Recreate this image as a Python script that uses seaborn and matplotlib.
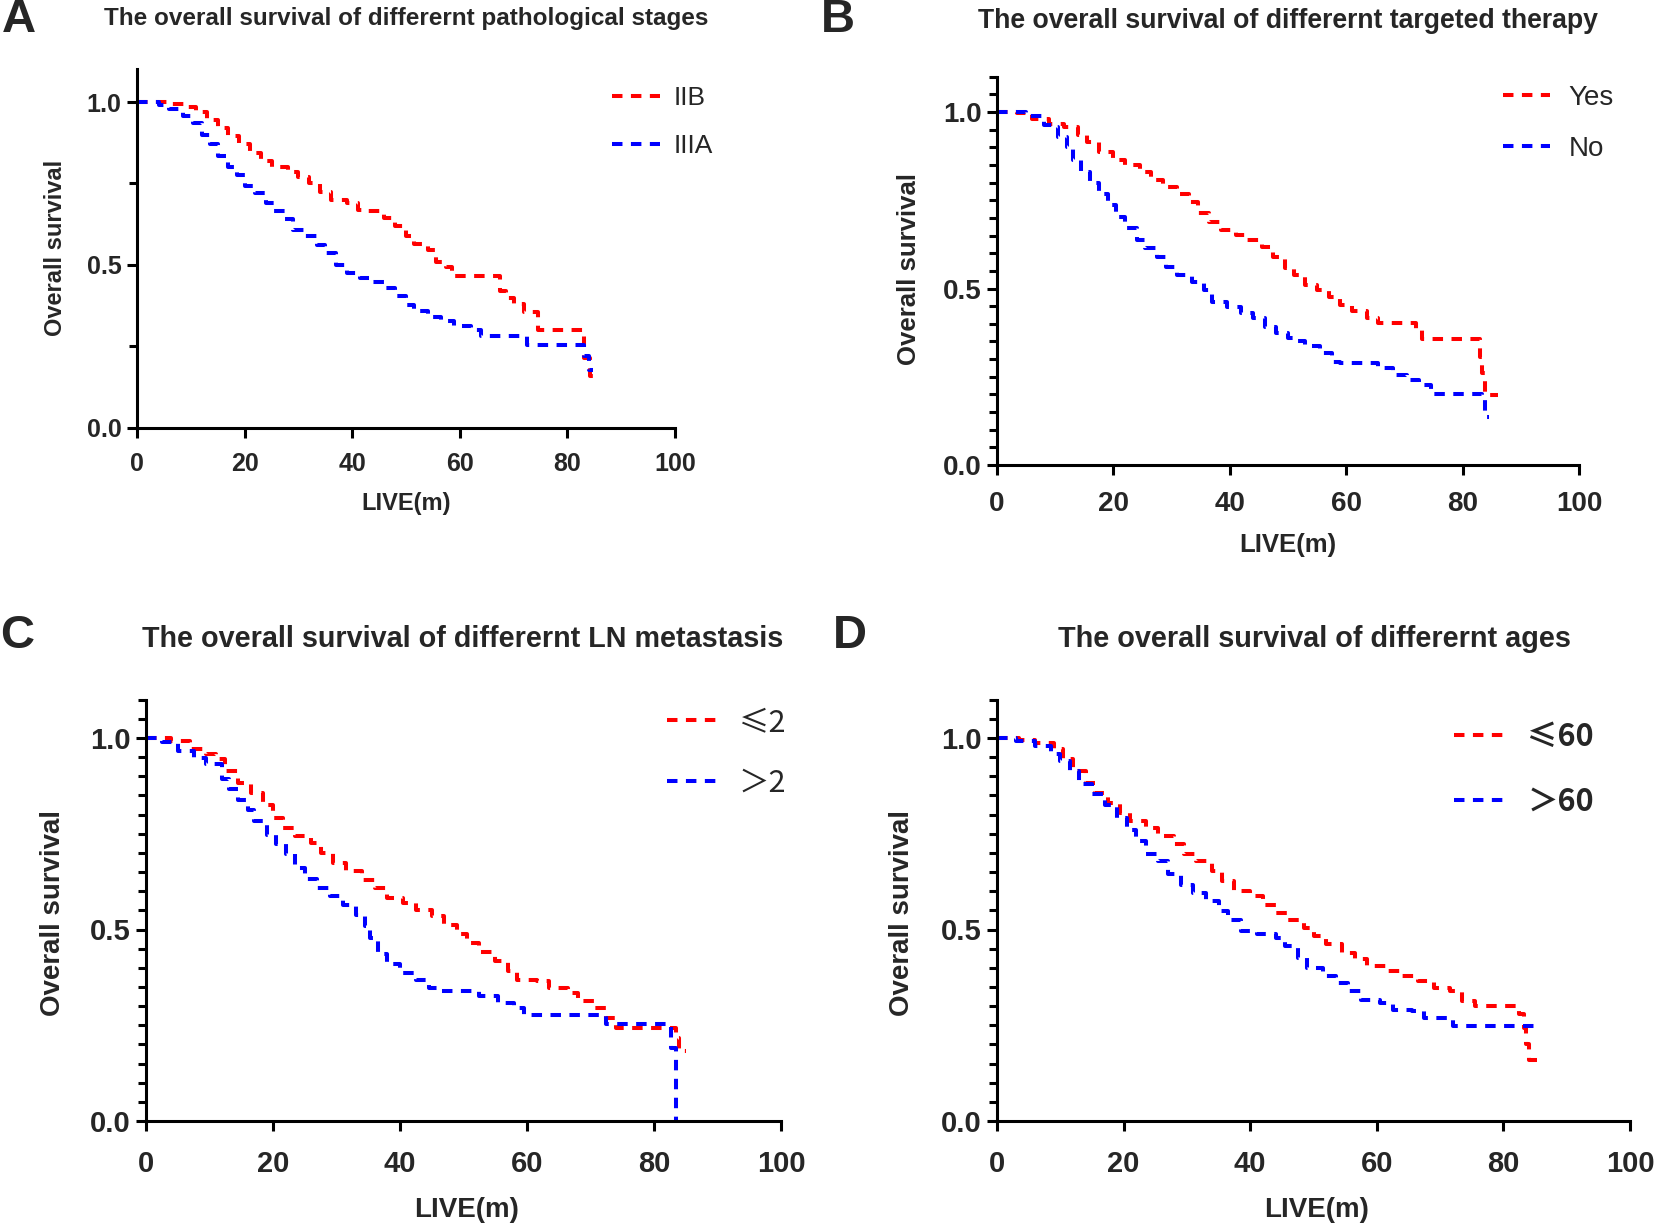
import numpy as np
import pandas as pd
import seaborn as sns
import matplotlib.pyplot as plt
from matplotlib.ticker import FixedLocator

sns.set_theme(style='ticks')
plt.rcParams['font.family'] = ['Liberation Sans', 'Noto Sans CJK SC', 'DejaVu Sans']

# ---- A: pathological stages ----
a_iib_time = [0, 6, 9, 11, 13, 15, 17, 19, 21, 23, 25, 28, 30, 32, 34, 36, 39, 41, 43, 46, 48, 50,
              51.5, 54, 55.5, 57.5, 58.5, 67.5, 68.5, 70, 72, 74.5, 83, 84.2, 86.3]
a_iib_surv = [1.0, 0.995, 0.985, 0.97, 0.945, 0.92, 0.895, 0.87, 0.845, 0.82, 0.80, 0.785, 0.77, 0.75,
              0.725, 0.70, 0.69, 0.67, 0.665, 0.645, 0.62, 0.59, 0.565, 0.545, 0.51, 0.495, 0.466,
              0.42, 0.40, 0.38, 0.356, 0.30, 0.215, 0.158, 0.158]
a_iiia_time = [0, 4, 6, 8.5, 10.5, 12, 13.5, 15, 17, 18.5, 20, 22, 24, 25.5, 27.5, 29, 31, 33.5, 35,
               37, 39, 41.5, 43.5, 46, 48, 50, 51.5, 54, 56.5, 59, 62, 64, 72.5, 83, 84, 84.8]
a_iiia_surv = [1.0, 0.99, 0.98, 0.956, 0.935, 0.90, 0.87, 0.835, 0.80, 0.777, 0.741, 0.72, 0.69, 0.665,
               0.64, 0.608, 0.588, 0.562, 0.537, 0.50, 0.475, 0.46, 0.447, 0.43, 0.404, 0.378, 0.36,
               0.342, 0.327, 0.312, 0.30, 0.283, 0.256, 0.22, 0.179, 0.179]

# ---- B: targeted therapy ----
b_yes_time = [0, 3.5, 6, 9, 11.5, 14, 15.5, 17.5, 20, 22, 24.5, 26.5, 28.5, 31, 33, 34.5, 36.5, 38.5,
              41, 43, 45.5, 47.5, 49.5, 51, 53, 55, 57, 59, 61, 63.5, 65.5, 72, 73, 83, 83.4, 83.8, 86]
b_yes_surv = [1.0, 0.996, 0.98, 0.967, 0.958, 0.934, 0.915, 0.887, 0.864, 0.85, 0.83, 0.807, 0.788,
              0.769, 0.746, 0.713, 0.689, 0.666, 0.651, 0.637, 0.618, 0.59, 0.557, 0.538, 0.51, 0.496,
              0.477, 0.453, 0.437, 0.416, 0.403, 0.383, 0.358, 0.307, 0.26, 0.199, 0.199]
b_no_time = [0, 5, 8, 9.5, 10.5, 12, 13, 14.5, 16, 17.5, 19, 20.5, 22, 24, 25.5, 27.5, 29, 31, 33.5,
             35.5, 37, 39.5, 42, 44, 46, 48, 50, 51, 53, 55.5, 57.5, 59, 65.5, 68, 70.5, 72.5, 74.5,
             83.4, 83.8, 84.5]
b_no_surv = [1.0, 0.99, 0.963, 0.958, 0.93, 0.90, 0.864, 0.83, 0.80, 0.769, 0.736, 0.703, 0.67, 0.637,
             0.614, 0.59, 0.562, 0.538, 0.519, 0.496, 0.463, 0.449, 0.43, 0.416, 0.392, 0.373, 0.36,
             0.35, 0.337, 0.317, 0.293, 0.289, 0.274, 0.255, 0.241, 0.227, 0.202, 0.185, 0.137, 0.137]

# ---- C: LN metastasis ----
c_le2_time = [0, 4, 7, 9.5, 11, 12.5, 14.5, 16.5, 18.5, 20, 21.5, 23.5, 26, 27.5, 29.5, 31.5, 34, 36,
              38, 40.5, 42.5, 45, 47, 49, 50.5, 52.5, 55, 57, 58.5, 61.5, 63.5, 66.5, 68, 70.5, 72.5,
              74, 83.5, 84, 85]
c_le2_surv = [1.0, 0.992, 0.97, 0.957, 0.944, 0.913, 0.883, 0.857, 0.826, 0.792, 0.766, 0.744, 0.726,
              0.70, 0.674, 0.652, 0.63, 0.609, 0.583, 0.57, 0.552, 0.535, 0.513, 0.487, 0.465, 0.44,
              0.417, 0.391, 0.369, 0.365, 0.348, 0.335, 0.313, 0.296, 0.27, 0.243, 0.217, 0.182, 0.182]
c_gt2_time = [0, 2.5, 5, 7.5, 9.5, 12, 13, 14.5, 16, 17, 19, 20.5, 22, 23.5, 25, 27, 29, 31, 33, 34.5,
              35.3, 36.5, 38, 40, 42.5, 44.5, 46.5, 52.5, 55.5, 58, 59.5, 72.5, 82.6, 83.4]
c_gt2_surv = [1.0, 0.99, 0.966, 0.948, 0.933, 0.892, 0.866, 0.839, 0.813, 0.783, 0.748, 0.722, 0.696,
              0.661, 0.631, 0.609, 0.587, 0.565, 0.539, 0.509, 0.478, 0.435, 0.409, 0.387, 0.369,
              0.348, 0.339, 0.326, 0.309, 0.296, 0.278, 0.252, 0.19, 0.0]

# ---- D: ages ----
d_le60_time = [0, 3.5, 6, 9, 10.5, 12, 14, 15.5, 17.5, 19.5, 21, 23.5, 25.5, 28, 29.5, 31.5, 34, 35.5,
               37.5, 40, 42, 44, 46, 48.5, 50, 52, 54.5, 56.5, 58.5, 61.5, 64, 66.5, 69, 71.5, 73.5,
               75.5, 82.4, 83.2, 83.6, 84, 85.3]
d_le60_surv = [1.0, 0.995, 0.987, 0.97, 0.944, 0.913, 0.883, 0.857, 0.831, 0.805, 0.783, 0.766, 0.744,
               0.722, 0.696, 0.678, 0.652, 0.626, 0.60, 0.587, 0.565, 0.544, 0.526, 0.504, 0.483,
               0.461, 0.439, 0.422, 0.404, 0.391, 0.378, 0.365, 0.348, 0.339, 0.313, 0.30, 0.28,
               0.243, 0.20, 0.158, 0.158]
d_gt60_time = [0, 3, 6, 8.5, 10, 11.5, 13, 15, 17, 19, 20.5, 22, 23.5, 25.5, 27, 29, 31, 33, 35, 36.5,
               38.5, 41, 44, 45.5, 47.5, 49, 51.5, 53.5, 55.5, 57.5, 60.5, 62.5, 65.5, 67.5, 72, 86]
d_gt60_surv = [1.0, 0.992, 0.979, 0.957, 0.939, 0.913, 0.879, 0.853, 0.826, 0.792, 0.761, 0.731, 0.696,
               0.678, 0.644, 0.617, 0.596, 0.574, 0.548, 0.526, 0.496, 0.487, 0.478, 0.456, 0.426,
               0.40, 0.378, 0.361, 0.339, 0.317, 0.309, 0.291, 0.287, 0.27, 0.248, 0.248]

W, H = 1654, 1228
fig = plt.figure(figsize=(W / 100, H / 100), dpi=100)
RED, BLUE = '#ff0000', '#0000ff'


def rect(x0, x100, y0, y1):
    # pixel positions of t=0, t=100, s=0, s=1.0 -> axes rect (ylim 0..1.1)
    top = y0 - (y0 - y1) * 1.1
    return [x0 / W, 1 - y0 / H, (x100 - x0) / W, (y0 - top) / H]


def ftext(x, y, s, **kw):
    fig.text(x / W, 1 - y / H, s, ha='center', va='center', **kw)


def panel(r, series, letter, letter_xy, title, title_xy, title_fs, xlab_xy, ylab_xy, lab_fs,
          tick_fs, xpad, minor, leg_xy, leg_kw, leg_prop):
    ax = fig.add_axes(r)
    for lab, t, s, col in series:
        df = pd.DataFrame({'time': t, 'surv': s})
        sns.lineplot(data=df, x='time', y='surv', ax=ax, color=col, estimator=None, sort=False,
                     drawstyle='steps-post', lw=2.9, linestyle=(0, (2.6, 2.1)),
                     dash_capstyle='butt', legend=False, clip_on=False)
    ax.set_xlim(0, 100)
    ax.set_ylim(0, 1.1)
    ax.set_xlabel('')
    ax.set_ylabel('')
    ax.set_xticks(range(0, 101, 20))
    ax.set_yticks([0, 0.5, 1.0])
    ax.set_yticklabels(['0.0', '0.5', '1.0'])
    ax.yaxis.set_minor_locator(FixedLocator(np.arange(0, 1.1001, minor)))
    ax.tick_params(which='major', direction='out', length=7, width=2.2, labelsize=tick_fs,
                   pad=4, color='black')
    ax.tick_params(axis='x', which='major', pad=xpad)
    ax.tick_params(which='minor', direction='out', length=6, width=2.2, color='black')
    for lbl in ax.get_xticklabels() + ax.get_yticklabels():
        lbl.set_fontweight('bold')
    sns.despine(ax=ax)
    for sp in ['left', 'bottom']:
        ax.spines[sp].set_linewidth(2.2)
        ax.spines[sp].set_color('black')
    ax.set_facecolor('white')
    lines = ax.get_lines()
    ax.legend(lines, [sr[0] for sr in series], loc='upper left', frameon=False,
              bbox_to_anchor=((leg_xy[0] - r[0] * W) / (r[2] * W),
                              ((1 - leg_xy[1] / H) - r[1]) / r[3]),
              borderaxespad=0, borderpad=0, prop=leg_prop, **leg_kw)
    ftext(*letter_xy, letter, fontsize=34, fontweight='bold')
    ftext(*title_xy, title, fontsize=title_fs, fontweight='bold')
    ftext(*xlab_xy, 'LIVE(m)', fontsize=lab_fs, fontweight='bold')
    ftext(*ylab_xy, 'Overall survival', fontsize=lab_fs, fontweight='bold', rotation=90)
    return ax


panel(rect(137, 675, 428, 102),
      [('IIB', a_iib_time, a_iib_surv, RED), ('IIIA', a_iiia_time, a_iiia_surv, BLUE)],
      'A', (19, 20), 'The overall survival of differernt pathological stages', (406, 18), 17.5,
      (406, 503), (56, 248), 17, 18, 10, 0.25, (612, 86),
      dict(handlelength=1.8, handletextpad=0.55, labelspacing=0.92), {'size': 19})

panel(rect(997, 1579, 465, 112),
      [('Yes', b_yes_time, b_yes_surv, RED), ('No', b_no_time, b_no_surv, BLUE)],
      'B', (838, 20), 'The overall survival of differernt targeted therapy', (1288, 21), 19.2,
      (1288, 545), (909, 269), 18.5, 20, 12, 0.05, (1503, 85),
      dict(handlelength=1.7, handletextpad=0.65, labelspacing=0.9), {'size': 20})

panel(rect(146, 781, 1121, 738),
      [('≤2', c_le2_time, c_le2_surv, RED), ('＞2', c_gt2_time, c_gt2_surv, BLUE)],
      'C', (17, 636), 'The overall survival of differernt LN metastasis', (463, 639), 20.7,
      (467, 1210), (53, 913), 20, 21, 14, 0.05, (667, 707),
      dict(handlelength=1.65, handletextpad=0.7, labelspacing=0.98),
      {'size': 22, 'family': ['Noto Sans CJK SC', 'DejaVu Sans']})

panel(rect(997, 1630, 1121, 738),
      [('≤60', d_le60_time, d_le60_surv, RED), ('＞60', d_gt60_time, d_gt60_surv, BLUE)],
      'D', (850, 636), 'The overall survival of differernt ages', (1314, 639), 20.8,
      (1317, 1210), (902, 913), 20, 21, 14, 0.05, (1454, 721),
      dict(handlelength=1.8, handletextpad=0.6, labelspacing=1.08),
      {'size': 22, 'weight': 'bold', 'family': ['Noto Sans CJK SC', 'DejaVu Sans']})

fig.savefig('out.png', dpi=100, facecolor='white')
